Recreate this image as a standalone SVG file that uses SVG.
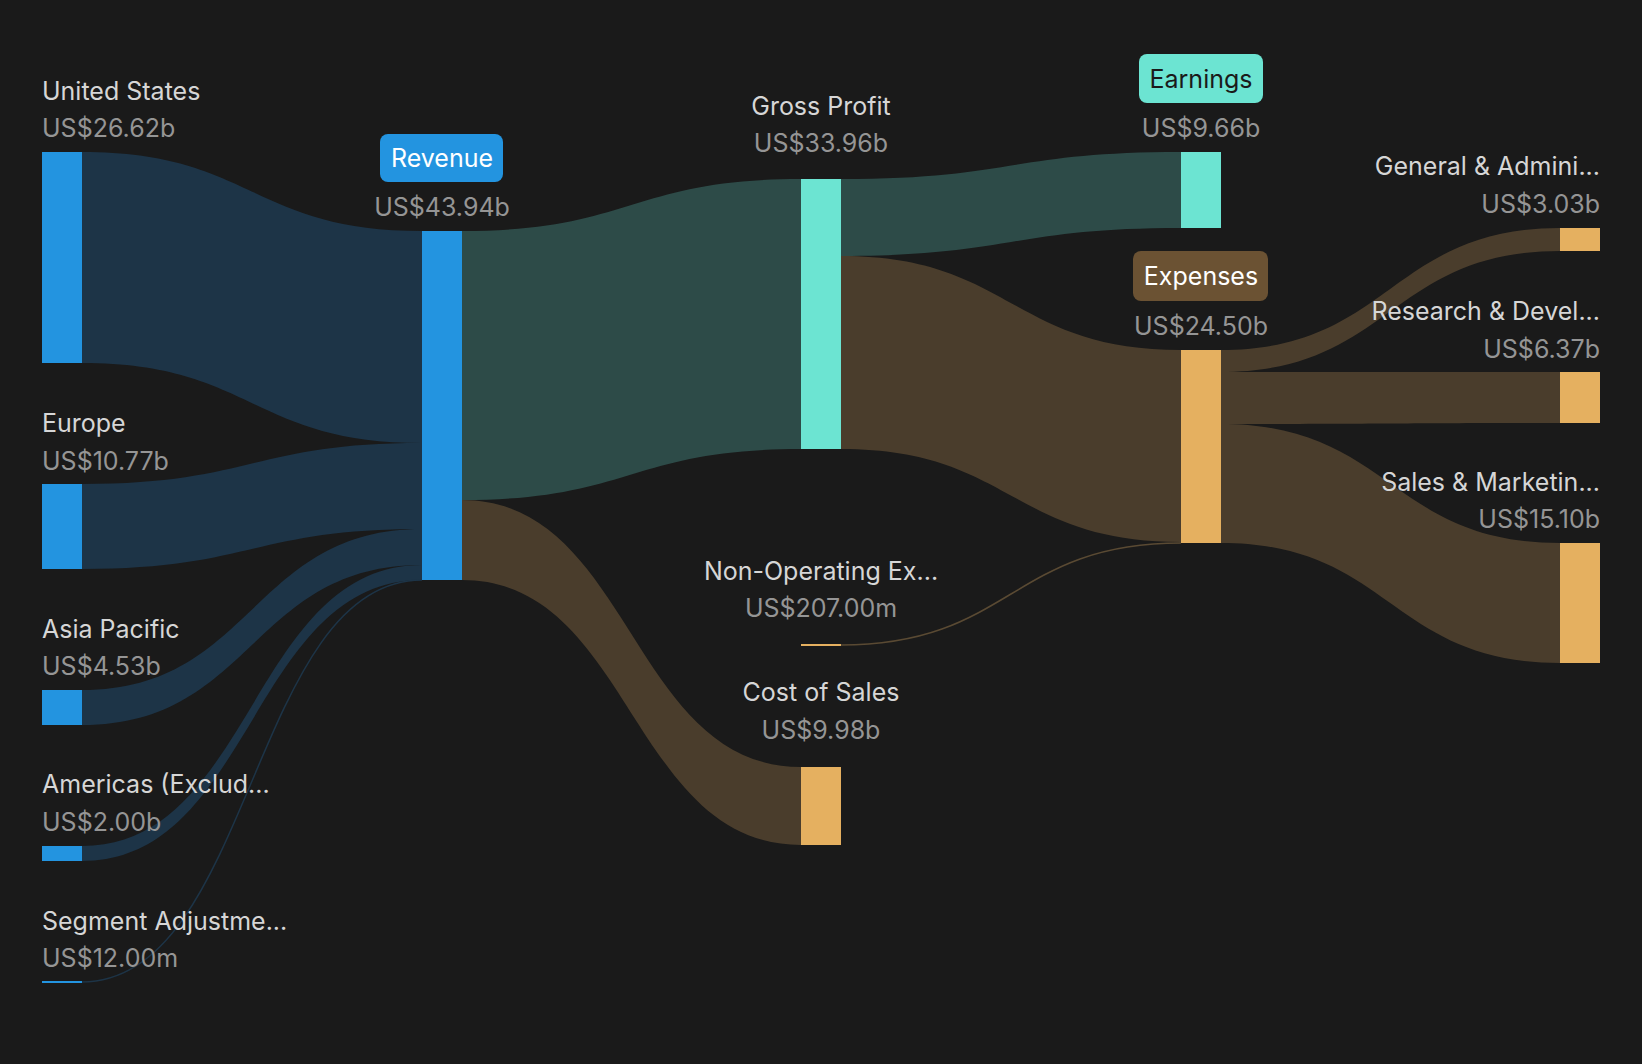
<svg xmlns="http://www.w3.org/2000/svg" width="1642" height="1064" viewBox="0 0 1642 1064">
<style>
text{font-family:Inter,"Noto Sans","Liberation Sans",sans-serif;font-size:25px}
.n{fill:#d6d6d6}.v{fill:#959595}
.m{text-anchor:middle}.e{text-anchor:end}
.lb{fill:#1d3447}.lt{fill:#2d4b48}.lo{fill:#4a3d2c}
.b{fill:#2394e0}.t{fill:#6ce4d2}.o{fill:#e5b060}
</style>
<rect width="1642" height="1064" fill="#1a1a1a"/>
<g id="links">
<path class="lb" d="M82 152C252 152 252 231 422 231L422 443C252 443 252 363 82 363Z"/>
<path class="lb" d="M82 484C252 484 252 443 422 443L422 529C252 529 252 569 82 569Z"/>
<path class="lb" d="M82 690C252 690 252 529 422 529L422 565C252 565 252 725 82 725Z"/>
<path class="lb" d="M82 846C252 846 252 565 422 565L422 580C252 580 252 861 82 861Z"/>
<path d="M82 982C252 982 252 580 422 580" fill="none" stroke="#1d3447" stroke-width="1.5"/>
<path class="lt" d="M462 231C631 231 631 179 801 179L801 449C631 449 631 500 462 500Z"/>
<path class="lo" d="M462 500C631 500 631 767 801 767L801 845C631 845 631 580 462 580Z"/>
<path class="lt" d="M841 179C1011 179 1011 152 1181 152L1181 228C1011 228 1011 256 841 256Z"/>
<path class="lo" d="M841 256C1011 256 1011 350 1181 350L1181 542C1011 542 1011 449 841 449Z"/>
<path d="M841 645C1011 645 1011 543 1181 543" fill="none" stroke="#5a4a33" stroke-width="1.5"/>
<path class="lo" d="M1221 350C1390 350 1390 228 1560 228L1560 251C1390 251 1390 372 1221 372Z"/>
<path class="lo" d="M1221 372C1390 372 1390 372 1560 372L1560 423C1390 423 1390 424 1221 424Z"/>
<path class="lo" d="M1221 424C1390 424 1390 543 1560 543L1560 663C1390 663 1390 543 1221 543Z"/>
</g>
<g id="us"><rect class="b" x="42" y="152" width="40" height="211"/><text class="n" x="42" y="100">United States</text><text class="v" x="42" y="137">US$26.62b</text></g>
<g id="europe"><rect class="b" x="42" y="484" width="40" height="85"/><text class="n" x="42" y="432">Europe</text><text class="v" x="42" y="470">US$10.77b</text></g>
<g id="asia"><rect class="b" x="42" y="690" width="40" height="35"/><text class="n" x="42" y="638">Asia Pacific</text><text class="v" x="42" y="675">US$4.53b</text></g>
<g id="americas"><rect class="b" x="42" y="846" width="40" height="15"/><text class="n" x="42" y="793">Americas (Exclud...</text><text class="v" x="42" y="831">US$2.00b</text></g>
<g id="segment"><rect class="b" x="42" y="981" width="40" height="2"/><text class="n" x="42" y="930">Segment Adjustme...</text><text class="v" x="42" y="967">US$12.00m</text></g>
<g id="revenue"><rect class="b" x="422" y="231" width="40" height="349"/><rect class="b" x="380" y="134" width="123" height="48" rx="8"/><text x="442" y="167" class="m" fill="#fff">Revenue</text><text class="v m" x="442" y="216">US$43.94b</text></g>
<g id="gross"><rect class="t" x="801" y="179" width="40" height="270"/><text class="n m" x="821" y="115">Gross Profit</text><text class="v m" x="821" y="152">US$33.96b</text></g>
<g id="nonop"><rect class="o" x="801" y="644" width="40" height="2"/><text class="n m" x="821" y="580">Non-Operating Ex...</text><text class="v m" x="821" y="617">US$207.00m</text></g>
<g id="cos"><rect class="o" x="801" y="767" width="40" height="78"/><text class="n m" x="821" y="701">Cost of Sales</text><text class="v m" x="821" y="739">US$9.98b</text></g>
<g id="earnings"><rect class="t" x="1181" y="152" width="40" height="76"/><rect class="t" x="1139" y="54" width="124" height="49" rx="8"/><text x="1201" y="88" class="m" fill="#1a1a1a">Earnings</text><text class="v m" x="1201" y="137">US$9.66b</text></g>
<g id="expenses"><rect class="o" x="1181" y="350" width="40" height="193"/><rect x="1133" y="251" width="135" height="50" rx="8" fill="#6b5233"/><text x="1201" y="285" class="m" fill="#fff">Expenses</text><text class="v m" x="1201" y="335">US$24.50b</text></g>
<g id="ga"><rect class="o" x="1560" y="228" width="40" height="23"/><text class="n e" x="1600" y="175">General &amp; Admini...</text><text class="v e" x="1600" y="213">US$3.03b</text></g>
<g id="rd"><rect class="o" x="1560" y="372" width="40" height="51"/><text class="n e" x="1600" y="320">Research &amp; Devel...</text><text class="v e" x="1600" y="358">US$6.37b</text></g>
<g id="sm"><rect class="o" x="1560" y="543" width="40" height="120"/><text class="n e" x="1600" y="491">Sales &amp; Marketin...</text><text class="v e" x="1600" y="528">US$15.10b</text></g>
</svg>
